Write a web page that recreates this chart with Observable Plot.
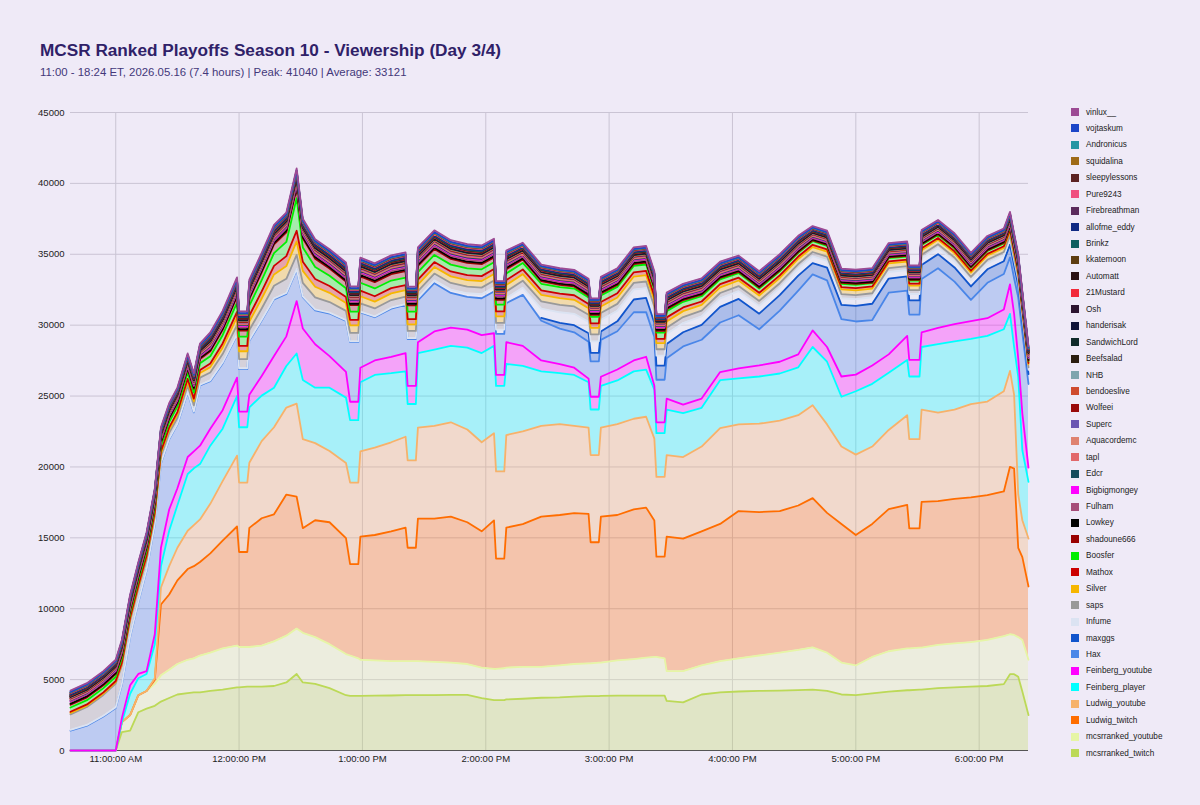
<!DOCTYPE html>
<html>
<head>
<meta charset="utf-8">
<script src="https://cdn.jsdelivr.net/npm/d3@7"></script>
<script src="https://cdn.jsdelivr.net/npm/@observablehq/plot@0.6"></script>
<style>
  html,body{margin:0;padding:0;background:#efeaf7;}
  body{font-family:Arial,"Liberation Sans",Helvetica,sans-serif;}
  #page{position:relative;width:1200px;height:805px;overflow:hidden;background:#efeaf7;}
  #title{position:absolute;left:40px;top:42px;font-size:17.2px;line-height:1;font-weight:bold;color:#2f2168;white-space:nowrap;}
  #subtitle{position:absolute;left:40px;top:67px;font-size:11.4px;line-height:1;color:#43387a;white-space:nowrap;}
  #chart{position:absolute;left:0;top:95px;}
  #legend{position:absolute;left:1071px;top:103.8px;font-size:8.2px;color:#222;}
  .row{height:16.45px;display:flex;align-items:center;white-space:nowrap;}
  .sw{width:8px;height:8px;margin-right:7px;flex:none;}
</style>
</head>
<body>
<div id="page">
  <div id="title">MCSR Ranked Playoffs Season 10 - Viewership (Day 3/4)</div>
  <div id="subtitle">11:00 - 18:24 ET, 2026.05.16 (7.4 hours) | Peak: 41040 | Average: 33121</div>
  <div id="chart"></div>
  <div id="legend"></div>
</div>
<script>
// ---------- DATA ----------
const times = ["10:38","10:46","10:54","11:00",
"11:03","11:07","11:11","11:15","11:19","11:22","11:26","11:30","11:35","11:38","11:41",
"11:46","11:52","11:59","12:00","12:04","12:05","12:11","12:17","12:23","12:28","12:31","12:37","12:44","12:52",
"12:54","12:58","12:59","13:06","13:14","13:21","13:22","13:26","13:27","13:35","13:43","13:51","13:58","14:04","14:05","14:09","14:10",
"14:18","14:27","14:36","14:43","14:50","14:51","14:55","14:56","15:04","15:12","15:18","15:22","15:23","15:27","15:28",
"15:36","15:45","15:54","16:03","16:13","16:23","16:32",
"16:39","16:46","16:53","17:00","17:08","17:16","17:25","17:26","17:31","17:32","17:40","17:48","17:56","18:04","18:12","18:15","18:17","18:19","18:21","18:24"];

const yTicks = [0,5000,10000,15000,20000,25000,30000,35000,40000,45000];
const hourTicks = ["11:00","12:00","13:00","14:00","15:00","16:00","17:00","18:00"];

const mcsrranked_twitch = [0,0,0,0,
1300,1400,2700,2950,3150,3450,3700,3950,4050,4100,4100,
4200,4300,4450,4450,4500,4500,4500,4550,4800,5400,4800,4700,4400,3900,
3850,3850,3850,3870,3880,3900,3900,3900,3900,3910,3920,3920,3700,3550,3550,3550,3600,
3650,3720,3750,3800,3830,3830,3840,3850,3870,3870,3870,3870,3870,3870,3500,
3400,3950,4100,4160,4200,4230,4260,
4290,4200,3950,3900,4030,4150,4250,4250,4300,4300,4400,4450,4500,4550,4680,5380,5380,5200,4160,2500];
const mcsrranked_youtube = [0,0,0,0,
700,1100,1200,1250,1550,1850,2000,2150,2350,2400,2600,
2700,2900,2950,2850,2800,2800,2900,3150,3300,3200,3500,3300,3100,2900,
2850,2650,2550,2480,2420,2400,2400,2400,2400,2340,2280,2180,2150,2200,2200,2250,2250,
2250,2180,2250,2300,2320,2320,2360,2350,2480,2580,2680,2730,2730,2630,2100,
2200,2050,2200,2340,2500,2670,2840,
2990,2700,2250,2100,2570,2850,2950,2950,2950,2950,3050,3100,3150,3250,3380,2820,2770,2800,3640,3900];
const Ludwig_twitch = [0,0,0,0,
0,0,0,0,300,5000,5300,5900,6400,6500,6600,
7000,7600,8400,6700,6700,8400,8980,8960,9950,9300,7380,8240,8600,8180,
6450,6650,8680,8850,9160,9420,8000,8000,10060,10110,10290,10000,9610,10480,7790,7740,9870,
10070,10590,10610,10640,10540,8540,8490,10290,10260,10550,10580,9630,7070,7170,9480,
9350,9460,9680,10390,10120,9990,10180,
10520,9860,9780,9200,9380,10020,10130,8470,8420,10290,10140,10200,10200,10210,10210,11810,11730,6290,5840,5170];
const Ludwig_youtube = [0,0,0,0,
0,0,0,0,100,1200,2000,2300,2700,2900,3000,
3500,4200,5000,4900,4900,4600,5440,6140,6140,6570,6280,5440,5020,5300,
5750,5750,6020,6160,6280,6410,6160,6160,6410,6540,6660,6540,6280,6150,6150,6150,6530,
6540,6410,6410,6160,6080,6150,6150,6280,6410,6400,6410,5770,5630,5630,5760,
5750,5980,6760,6110,6230,6370,6370,
6550,6240,5460,5670,5460,5590,6320,6290,6290,6500,6240,6290,6580,6600,7070,6760,5200,3770,2600,3380];
const Feinberg_player = [0,0,0,0,
0,1500,1200,1200,2400,1500,2500,3000,4000,4000,3900,
4100,3700,4200,3900,3900,3900,3210,2790,2930,3530,4180,3910,4470,4610,
4400,4400,4870,5130,4870,4610,3980,3980,5260,5380,5390,5770,6290,6160,6030,6030,5010,
4620,3840,3590,3590,3200,3210,3210,2950,3080,3340,3330,3460,3080,3080,3210,
3100,2730,3380,3250,3330,3330,3380,
4110,4420,3510,4470,4420,4030,3900,4420,4420,4420,4840,4810,4600,4630,4370,4030,3380,8300,4940,4000];
const Feinberg_youtube = [0,0,0,0,
300,600,300,200,700,1300,1500,1200,1200,1200,1300,
1200,1300,1300,1100,1100,900,1390,2230,2090,3700,3630,3060,2230,1810,
1300,1300,1030,1020,1160,1290,1280,1280,770,1280,1280,1280,1270,890,770,770,1540,
1410,770,650,510,260,900,900,640,770,770,900,260,770,770,770,
600,650,570,700,780,830,910,
1170,1040,1430,1170,1300,1300,1690,1170,1170,1040,1140,1220,1250,1250,1400,2080,2340,1300,2600,1000];
const Hax = [1400,1750,2400,3000,
2350,3400,5050,7100,7700,5950,4950,4500,4550,2750,4250,
3350,3300,3000,3000,3000,3800,3900,4000,3000,2200,2200,2400,3000,3600,
4200,4200,3900,3050,3400,3400,3300,3300,2950,3400,2450,2300,2600,2950,2900,2900,2750,
3600,2800,2500,2500,2600,2500,2500,2600,2700,3400,3150,3450,3000,3000,2850,
4100,4150,3500,3750,2550,3600,4500,
3950,4700,4050,3750,3200,4350,3200,3200,3200,3750,4200,3000,1500,2500,2500,1900,2500,4300,5700,5900];
const maxggs = [null,null,null,null,
null,null,null,null,null, null,null,null,null,null, null,
null,null,null,null,null, null,null,null,null,null, null,null,null,null,
null,null,null,null,null, null,null,null,null,null, null,null,null,null,null, null,null,
null,200,400,500,600,600,600,600,700,900,1000,1000,1000,1000,1000,
1000,1050,1100,1150,1100,1100,1050,
800,900,1000,1100,1150,1000,1000,1000,1000,1000,1000,1000,950,950,900,900,900,850,800,700];
const Infume = [50,50,50,50,
50,50,50,50,50, 50,50,50,50,50, 50,
60,60,60,60,60, 60,60,60,60,60, 60,60,60,60,
60,60,60,60,60,60,60,60,150,200,240,260,280,300,300,300,350,
500,650,750,800,800,800,800,800,750,700,700,700,700,700,700,
650,600,600,550,550,500,500,
480,480,470,470,460,460,450,450,450,450,440,440,430,420,410,410,400,380,350,300];
const saps = [1100,1270,1470,1670,
1300,1100,900,700,550,450,400,400,450,450,500,
550,600,650,650,650,700,800,900,1000,1000,950,850,750,650,
600,600,580,560,540,520,520,520,500,480,470,470,470,470,470,470,480,
500,520,520,520,500,500,500,500,480,470,460,450,450,450,450,
420,400,380,360,350,340,320,
300,300,290,290,280,280,270,270,270,270,260,260,250,250,240,240,230,220,200,170];
const Silver = [100,100,100,100,
120,130,150,170,190,210,230,250,280,280,320,
380,450,550,550,550,600,700,800,900,950,850,750,650,550,
520,520,500,480,470,460,460,460,460,460,460,460,460,460,460,460,460,
460,460,470,470,460,460,460,460,450,450,450,440,440,440,440,
420,410,400,390,380,370,360,
350,350,340,340,330,330,320,320,320,320,310,310,300,300,290,290,280,270,250,220];
const Mathox = [80,80,80,80,
90,100,110,120,130,150,160,170,190,190,220,
250,300,380,380,380,420,500,600,700,750,650,550,480,420,
400,400,390,380,370,360,360,360,355,350,350,350,350,350,350,350,340,
330,320,320,320,310,310,310,310,300,300,300,290,290,290,290,
260,240,220,200,190,180,170,
160,160,150,150,150,140,140,140,140,140,130,130,130,120,120,120,120,110,100,90];
const Boosfer = [300,300,300,300,
310,320,330,340,350,360,370,380,420,420,470,
520,580,650,650,650,700,800,900,1000,2300,1000,850,720,620,
580,580,560,550,540,530,530,530,520,500,480,480,480,480,480,480,470,
460,460,470,470,460,460,460,460,450,450,450,440,440,440,440,
400,370,340,320,300,280,260,
250,250,240,240,230,230,220,220,220,220,210,210,200,200,190,190,180,170,160,140];
const shadoune666 = [200,200,200,200,
200,200,210,220,230,240,250,260,280,280,310,
340,380,430,430,430,470,550,620,680,700,650,580,520,470,
450,450,450,450,450,450,450,450,440,420,400,380,360,340,340,340,300,
250,180,150,150,140,140,140,140,130,130,130,130,130,130,130,
120,110,100,90,80,70,60,
60,60,60,60,50,50,50,50,50,50,50,50,50,50,50,50,50,40,40,30];
const Lowkey = [80,80,80,80,
80,80,80,80,80, 80,80,80,80,80, 80,
90,90,100,100,100,100,110,110,120,120,110,110,100,100,
100,100,100,100,100, 100,100,100,100,100, 100,100,100,100,100, 100,100,
90,90,90,90,90, 90,90,90,90,90, 90,90,90,90,90,
80,80,80,80,80, 80,80,
70,70,70,70,70, 70,70,70,70,70, 70,70,70,70,70, 70,70,70,70,70];
const Fulham = [120,120,120,120,
110,110,110,110,110, 110,110,110,110,110, 110,
120,120,130,130,130,130,140,140,150,150,140,140,130,130,
120,120,120,120,120, 120,120,120,120,120, 120,120,120,120,120, 120,120,
110,110,110,110,110, 110,110,110,110,110, 110,110,110,110,110,
100,100,100,100,100, 100,100,
90,90,90,90,90, 90,90,90,90,90, 90,90,90,90,90, 90,90,90,90,90];
const Bigbigmongey = [60,60,60,60,
70,70,70,70,70, 70,70,70,70,70, 70,
100,100,100,100,100, 100,100,100,100,100, 100,100,100,100,
110,110,110,110,110, 110,110,110,110,110, 110,110,110,110,110, 110,110,
90,90,90,90,90, 90,90,90,90,90, 90,90,90,90,90,
80,80,80,80,80, 80,80,
70,70,70,70,70, 70,70,70,70,70, 70,70,70,70,70, 70,70,70,70,70];
const Edcr = [40,40,40,40,
45,45,45,45,45, 45,45,45,45,45, 45,
55,55,55,55,55, 55,55,55,55,55, 55,55,55,55,
50,50,50,50,50, 50,50,50,50,50, 50,50,50,50,50, 50,50,
45,45,45,45,45, 45,45,45,45,45, 45,45,45,45,45,
45,45,45,45,45, 45,45,
40,40,40,40,40, 40,40,40,40,40, 40,40,40,40,40, 40,40,40,40,40];
const tapl = [40,40,40,40,
50,50,50,50,50, 50,50,50,50,50, 50,
60,60,60,60,60, 60,60,60,60,60, 60,60,60,60,
60,60,60,60,60, 60,60,60,60,60, 60,60,60,60,60, 60,60,
55,55,55,55,55, 55,55,55,55,55, 55,55,55,55,55,
55,55,55,55,55, 55,55,
50,50,50,50,50, 50,50,50,50,50, 50,50,50,50,50, 50,50,50,50,50];
const Aquacordemc = [50,50,50,50,
55,55,55,55,55, 55,55,55,55,55, 55,
75,75,75,75,75, 75,75,75,75,75, 75,75,75,75,
70,70,70,70,70, 70,70,70,70,70, 70,70,70,70,70, 70,70,
60,60,60,60,60, 60,60,60,60,60, 60,60,60,60,60,
60,60,60,60,60, 60,60,
50,50,50,50,50, 50,50,50,50,50, 50,50,50,50,50, 50,50,50,50,50];
const Superc = [30,30,30,30,
35,35,35,35,35, 35,35,35,35,35, 35,
45,45,45,45,45, 45,45,45,45,45, 45,45,45,45,
40,40,40,40,40, 40,40,40,40,40, 40,40,40,40,40, 40,40,
40,40,40,40,40, 40,40,40,40,40, 40,40,40,40,40,
40,40,40,40,40, 40,40,
35,35,35,35,35, 35,35,35,35,35, 35,35,35,35,35, 35,35,35,35,35];
const Wolfeei = [30,30,30,30,
35,35,35,35,35, 35,35,35,35,35, 35,
40,40,40,40,40, 40,40,40,40,40, 40,40,40,40,
40,40,40,40,40, 40,40,40,40,40, 40,40,40,40,40, 40,40,
35,35,35,35,35, 35,35,35,35,35, 35,35,35,35,35,
35,35,35,35,35, 35,35,
30,30,30,30,30, 30,30,30,30,30, 30,30,30,30,30, 30,30,30,30,30];
const bendoeslive = [30,30,30,30,
35,35,35,35,35, 35,35,35,35,35, 35,
40,40,40,40,40, 40,40,40,40,40, 40,40,40,40,
40,40,40,40,40, 40,40,40,40,40, 40,40,40,40,40, 40,40,
35,35,35,35,35, 35,35,35,35,35, 35,35,35,35,35,
35,35,35,35,35, 35,35,
30,30,30,30,30, 30,30,30,30,30, 30,30,30,30,30, 30,30,30,30,30];
const NHB = [35,35,35,35,
40,40,40,40,40, 40,40,40,40,40, 40,
50,50,50,50,50, 50,50,50,50,50, 50,50,50,50,
50,50,50,50,50, 50,50,50,50,50, 50,50,50,50,50, 50,50,
45,45,45,45,45, 45,45,45,45,45, 45,45,45,45,45,
45,45,45,45,45, 45,45,
40,40,40,40,40, 40,40,40,40,40, 40,40,40,40,40, 40,40,40,40,40];
const Beefsalad = [25,25,25,25,
25,25,25,25,25, 25,25,25,25,25, 25,
30,30,30,30,30, 30,30,30,30,30, 30,30,30,30,
30,30,30,30,30, 30,30,30,30,30, 30,30,30,30,30, 30,30,
30,30,30,30,30, 30,30,30,30,30, 30,30,30,30,30,
30,30,30,30,30, 30,30,
25,25,25,25,25, 25,25,25,25,25, 25,25,25,25,25, 25,25,25,25,25];
const SandwichLord = [25,25,25,25,
25,25,25,25,25, 25,25,25,25,25, 25,
30,30,30,30,30, 30,30,30,30,30, 30,30,30,30,
30,30,30,30,30, 30,30,30,30,30, 30,30,30,30,30, 30,30,
30,30,30,30,30, 30,30,30,30,30, 30,30,30,30,30,
30,30,30,30,30, 30,30,
25,25,25,25,25, 25,25,25,25,25, 25,25,25,25,25, 25,25,25,25,25];
const handerisak = [20,20,20,20,
25,25,25,25,25, 25,25,25,25,25, 25,
30,30,30,30,30, 30,30,30,30,30, 30,30,30,30,
30,30,30,30,30, 30,30,30,30,30, 30,30,30,30,30, 30,30,
25,25,25,25,25, 25,25,25,25,25, 25,25,25,25,25,
25,25,25,25,25, 25,25,
25,25,25,25,25, 25,25,25,25,25, 25,25,25,25,25, 25,25,25,25,25];
const Osh = [25,25,25,25,
25,25,25,25,25, 25,25,25,25,25, 25,
35,35,35,35,35, 35,35,35,35,35, 35,35,35,35,
30,30,30,30,30, 30,30,30,30,30, 30,30,30,30,30, 30,30,
30,30,30,30,30, 30,30,30,30,30, 30,30,30,30,30,
30,30,30,30,30, 30,30,
25,25,25,25,25, 25,25,25,25,25, 25,25,25,25,25, 25,25,25,25,25];
const Mustard21 = [30,30,30,30,
35,35,35,35,35, 35,35,35,35,35, 35,
45,45,45,45,45, 45,45,45,45,45, 45,45,45,45,
40,40,40,40,40, 40,40,40,40,40, 40,40,40,40,40, 40,40,
35,35,35,35,35, 35,35,35,35,35, 35,35,35,35,35,
35,35,35,35,35, 35,35,
30,30,30,30,30, 30,30,30,30,30, 30,30,30,30,30, 30,30,30,30,30];
const Automatt = [25,25,25,25,
25,25,25,25,25, 25,25,25,25,25, 25,
30,30,30,30,30, 30,30,30,30,30, 30,30,30,30,
30,30,30,30,30, 30,30,30,30,30, 30,30,30,30,30, 30,30,
30,30,30,30,30, 30,30,30,30,30, 30,30,30,30,30,
30,30,30,30,30, 30,30,
25,25,25,25,25, 25,25,25,25,25, 25,25,25,25,25, 25,25,25,25,25];
const kkatemoon = [20,20,20,20,
25,25,25,25,25, 25,25,25,25,25, 25,
30,30,30,30,30, 30,30,30,30,30, 30,30,30,30,
30,30,30,30,30, 30,30,30,30,30, 30,30,30,30,30, 30,30,
25,25,25,25,25, 25,25,25,25,25, 25,25,25,25,25,
25,25,25,25,25, 25,25,
20,20,20,20,20, 20,20,20,20,20, 20,20,20,20,20, 20,20,20,20,20];
const Brinkz = [25,25,25,25,
25,25,25,25,25, 25,25,25,25,25, 25,
30,30,30,30,30, 30,30,30,30,30, 30,30,30,30,
30,30,30,30,30, 30,30,30,30,30, 30,30,30,30,30, 30,30,
25,25,25,25,25, 25,25,25,25,25, 25,25,25,25,25,
25,25,25,25,25, 25,25,
25,25,25,25,25, 25,25,25,25,25, 25,25,25,25,25, 25,25,25,25,25];
const allofme_eddy = [20,20,20,20,
25,25,25,25,25, 25,25,25,25,25, 25,
30,30,30,30,30, 30,30,30,30,30, 30,30,30,30,
30,30,30,30,30, 30,30,30,30,30, 30,30,30,30,30, 30,30,
25,25,25,25,25, 25,25,25,25,25, 25,25,25,25,25,
25,25,25,25,25, 25,25,
20,20,20,20,20, 20,20,20,20,20, 20,20,20,20,20, 20,20,20,20,20];
const Firebreathman = [60,60,60,60,
65,65,65,65,65, 65,65,65,65,65, 65,
80,80,80,80,80, 80,80,80,80,80, 80,80,80,80,
80,80,80,80,80, 80,80,80,80,80, 80,80,80,80,80, 80,80,
70,70,70,70,70, 70,70,70,70,70, 70,70,70,70,70,
70,70,70,70,70, 70,70,
60,60,60,60,60, 60,60,60,60,60, 60,60,60,60,60, 60,60,60,60,60];
const Pure9243 = [20,20,20,20,
25,25,25,25,25, 25,25,25,25,25, 25,
30,30,30,30,30, 30,30,30,30,30, 30,30,30,30,
30,30,30,30,30, 30,30,30,30,30, 30,30,30,30,30, 30,30,
25,25,25,25,25, 25,25,25,25,25, 25,25,25,25,25,
25,25,25,25,25, 25,25,
20,20,20,20,20, 20,20,20,20,20, 20,20,20,20,20, 20,20,20,20,20];
const sleepylessons = [30,30,30,30,
30,30,30,30,30, 30,30,30,30,30, 30,
40,40,40,40,40, 40,40,40,40,40, 40,40,40,40,
40,40,40,40,40, 40,40,40,40,40, 40,40,40,40,40, 40,40,
35,35,35,35,35, 35,35,35,35,35, 35,35,35,35,35,
35,35,35,35,35, 35,35,
30,30,30,30,30, 30,30,30,30,30, 30,30,30,30,30, 30,30,30,30,30];
const squidalina = [20,20,20,20,
25,25,25,25,25, 25,25,25,25,25, 25,
30,30,30,30,30, 30,30,30,30,30, 30,30,30,30,
30,30,30,30,30, 30,30,30,30,30, 30,30,30,30,30, 30,30,
25,25,25,25,25, 25,25,25,25,25, 25,25,25,25,25,
25,25,25,25,25, 25,25,
25,25,25,25,25, 25,25,25,25,25, 25,25,25,25,25, 25,25,25,25,25];
const Andronicus = [25,25,25,25,
25,25,25,25,25, 25,25,25,25,25, 25,
30,30,30,30,30, 30,30,30,30,30, 30,30,30,30,
30,30,30,30,30, 30,30,30,30,30, 30,30,30,30,30, 30,30,
25,25,25,25,25, 25,25,25,25,25, 25,25,25,25,25,
25,25,25,25,25, 25,25,
25,25,25,25,25, 25,25,25,25,25, 25,25,25,25,25, 25,25,25,25,25];
const vojtaskum = [25,25,25,25,
25,25,25,25,25, 25,25,25,25,25, 25,
30,30,30,30,30, 30,30,30,30,30, 30,30,30,30,
30,30,30,30,30, 30,30,30,30,30, 30,30,30,30,30, 30,30,
25,25,25,25,25, 25,25,25,25,25, 25,25,25,25,25,
25,25,25,25,25, 25,25,
25,25,25,25,25, 25,25,25,25,25, 25,25,25,25,25, 25,25,25,25,25];
const vinlux__ = [90,90,90,90,
100,100,100,100,100, 100,100,100,100,100, 100,
130,130,130,130,130, 130,130,130,130,130, 130,130,130,130,
120,120,120,120,120, 120,120,120,120,120, 120,120,120,120,120, 120,120,
110,110,110,110,110, 110,110,110,110,110, 110,110,110,110,110,
110,110,110,110,110, 110,110,
100,100,100,100,100, 100,100,100,100,100, 100,100,100,100,100, 100,100,100,100,100];

// stack order: bottom -> top
const seriesNames = ["mcsrranked_twitch","mcsrranked_youtube","Ludwig_twitch","Ludwig_youtube","Feinberg_player","Feinberg_youtube","Hax","maxggs","Infume","saps","Silver","Mathox","Boosfer","shadoune666","Lowkey","Fulham","Bigbigmongey","Edcr","tapl","Aquacordemc","Superc","Wolfeei","bendoeslive","NHB","Beefsalad","SandwichLord","handerisak","Osh","21Mustard","Automatt","kkatemoon","Brinkz","allofme_eddy","Firebreathman","Pure9243","sleepylessons","squidalina","Andronicus","vojtaskum","vinlux__"];
const seriesValues = [mcsrranked_twitch,mcsrranked_youtube,Ludwig_twitch,Ludwig_youtube,Feinberg_player,Feinberg_youtube,Hax,maxggs,Infume,saps,Silver,Mathox,Boosfer,shadoune666,Lowkey,Fulham,Bigbigmongey,Edcr,tapl,Aquacordemc,Superc,Wolfeei,bendoeslive,NHB,Beefsalad,SandwichLord,handerisak,Osh,Mustard21,Automatt,kkatemoon,Brinkz,allofme_eddy,Firebreathman,Pure9243,sleepylessons,squidalina,Andronicus,vojtaskum,vinlux__];
const seriesColors = ["#bcd957","#e6f5a6","#ff6d00","#f6b26b","#00ffff","#ff00ff","#4a86e8","#1155cc","#dbe3f2","#999999","#f6b600","#cc0000","#00ee00","#990000","#000000","#a64d79","#ff00ff","#164b5c","#e2686b","#df8270","#6a55b2","#990a0a","#cf4b2e","#7ea5ae","#2b1e0f","#0f2a2a","#101438","#2c1530","#f22a3a","#2b1212","#5e3d10","#0e5f60","#102a83","#5b2a5c","#f04f80","#5c2222","#9e6a17","#2496a3","#1c46c8","#9c4a94"];

// ---------- BUILD ----------
const bad = seriesNames.filter((n, i) => seriesValues[i].length !== times.length);
if (bad.length) throw new Error("length mismatch: " + bad.map(n => n + "=" + seriesValues[seriesNames.indexOf(n)].length).join(", "));

const toDate = s => { const [h, m] = s.split(":").map(Number); return new Date(Date.UTC(2026, 4, 16, h, m)); };
const T = times.map(toDate);
const rows = [];
const acc = times.map(() => 0);
seriesNames.forEach((name, k) => {
  seriesValues[k].forEach((v, i) => {
    const y1 = acc[i];
    const y2 = y1 + (v == null ? 0 : v);
    rows.push({s: name, t: T[i], y1, y2, yl: v == null ? NaN : y2});
    acc[i] = y2;
  });
});

const hours = hourTicks.map(toDate);
const chart = Plot.plot({
  width: 1200,
  height: 710,
  marginLeft: 70,
  marginRight: 172,
  marginTop: 17,
  marginBottom: 55,
  style: {background: "transparent", fontFamily: "Arial, 'Liberation Sans', sans-serif", fontSize: "9.5px", color: "#222", overflow: "visible"},
  x: {type: "utc", domain: [T[0], T[T.length - 1]], ticks: hours, tickFormat: d3.utcFormat("%-I:%M:%S %p"), tickSize: 0, tickPadding: 5, label: null},
  y: {domain: [0, 45000], ticks: yTicks, tickFormat: d => String(d), tickSize: 0, tickPadding: 6, label: null},
  color: {type: "ordinal", domain: seriesNames, range: seriesColors},
  marks: [
    Plot.ruleY(yTicks, {stroke: "#cac4d4", strokeWidth: 1}),
    Plot.ruleX(hours, {stroke: "#cac4d4", strokeWidth: 1}),
    Plot.areaY(rows, {x: "t", y1: "y1", y2: "y2", z: "s", fill: "s", fillOpacity: 0.3, curve: "linear"}),
    Plot.ruleY([0], {stroke: "#555", strokeWidth: 1}),
    Plot.lineY(rows, {x: "t", y: "yl", z: "s", stroke: "s", strokeWidth: 1.8, curve: "linear"})
  ]
});
document.getElementById("chart").appendChild(chart);

// legend (top of stack first)
const legend = document.getElementById("legend");
for (let k = seriesNames.length - 1; k >= 0; k--) {
  const row = document.createElement("div");
  row.className = "row";
  const sw = document.createElement("div");
  sw.className = "sw";
  sw.style.background = seriesColors[k];
  const tx = document.createElement("span");
  tx.textContent = seriesNames[k];
  row.appendChild(sw);
  row.appendChild(tx);
  legend.appendChild(row);
}
</script>
</body>
</html>
